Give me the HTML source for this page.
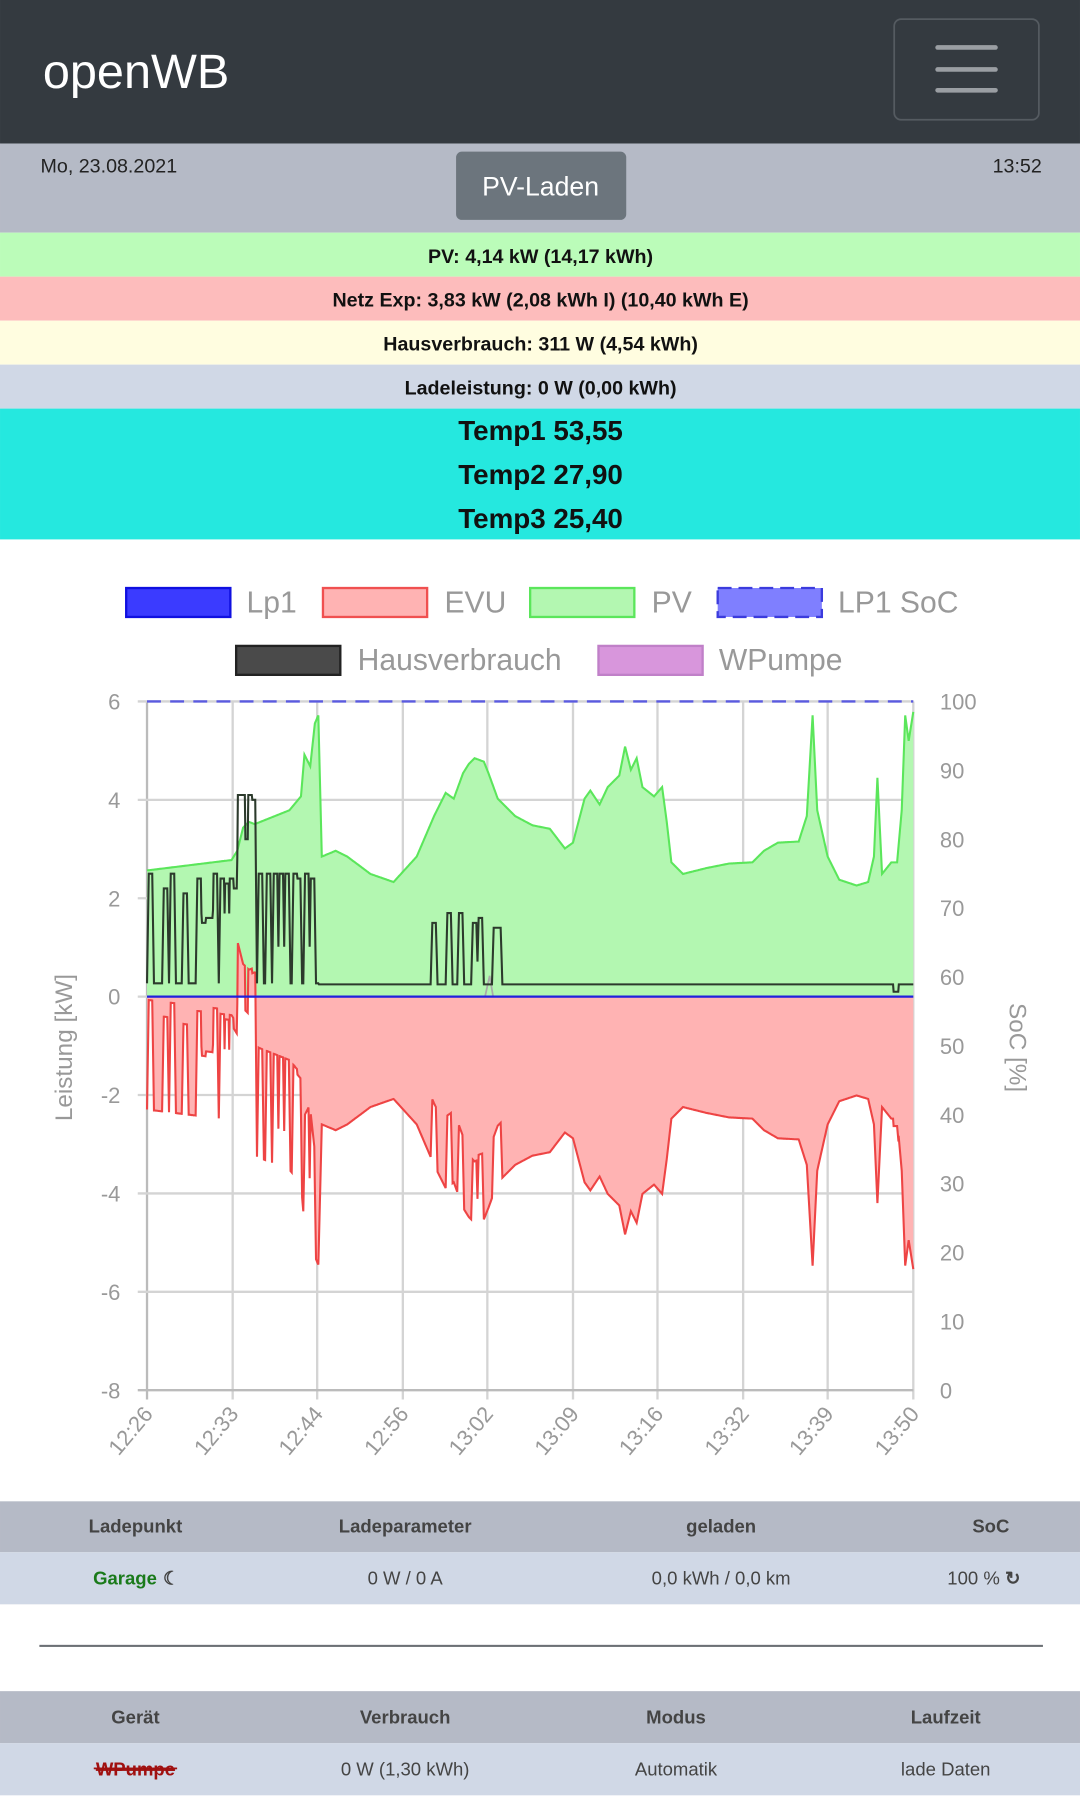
<!DOCTYPE html>
<html><head><meta charset="utf-8">
<style>
html,body{margin:0;padding:0;background:#fff;}
svg{display:block;}
text{font-family:"Liberation Sans",sans-serif;}
</style></head>
<body>
<svg id="s" width="1080" height="1815" viewBox="0 0 933 1568" xmlns="http://www.w3.org/2000/svg">
<rect x="0" y="0" width="933" height="124" fill="#343a40"/>
<text x="37" y="76" font-size="42" fill="#fff">openWB</text>
<rect x="772.5" y="16.5" width="125" height="87" rx="6" fill="none" stroke="#555b61" stroke-width="1.5"/>
<rect x="808" y="39" width="54" height="4" rx="2" fill="#9a9ea3"/>
<rect x="808" y="58" width="54" height="4" rx="2" fill="#9a9ea3"/>
<rect x="808" y="76" width="54" height="4" rx="2" fill="#9a9ea3"/>
<rect x="0" y="124" width="933" height="77" fill="#b5bac6"/>
<text x="35" y="149" font-size="17" fill="#222">Mo, 23.08.2021</text>
<text x="900" y="149" font-size="17" fill="#222" text-anchor="end">13:52</text>
<rect x="394" y="131" width="147" height="59" rx="5" fill="#6c757d"/>
<text x="467" y="169" font-size="23" fill="#fff" text-anchor="middle">PV-Laden</text>
<rect x="0" y="201" width="933" height="38" fill="#bbfcb9"/>
<rect x="0" y="239" width="933" height="38" fill="#fdbcbc"/>
<rect x="0" y="277" width="933" height="38" fill="#fffde0"/>
<rect x="0" y="315" width="933" height="38" fill="#d0d8e6"/>
<rect x="0" y="353" width="933" height="113" fill="#25e8df"/>
<g font-size="17" font-weight="bold" fill="#111" text-anchor="middle">
<text x="467" y="227">PV: 4,14 kW (14,17 kWh)</text>
<text x="467" y="265">Netz Exp: 3,83 kW (2,08 kWh I) (10,40 kWh E)</text>
<text x="467" y="303">Hausverbrauch: 311 W (4,54 kWh)</text>
<text x="467" y="341">Ladeleistung: 0 W (0,00 kWh)</text>
</g>
<g font-size="24" font-weight="bold" fill="#111" text-anchor="middle">
<text x="467" y="380">Temp1 53,55</text>
<text x="467" y="418">Temp2 27,90</text>
<text x="467" y="456">Temp3 25,40</text>
</g>
<!-- legend -->
<g font-size="26" fill="#999">
<rect x="109" y="508" width="90" height="25" fill="#3b3bff" stroke="#1010e0" stroke-width="2"/>
<text x="213" y="529">Lp1</text>
<rect x="279" y="508" width="90" height="25" fill="#ffb3b3" stroke="#f05050" stroke-width="2"/>
<text x="384" y="529">EVU</text>
<rect x="458" y="508" width="90" height="25" fill="#b3f7b1" stroke="#5be65b" stroke-width="2"/>
<text x="563" y="529">PV</text>
<rect x="620" y="508" width="90" height="25" fill="#7f7fff" stroke="#3b3bdd" stroke-width="2" stroke-dasharray="12,6"/>
<text x="724" y="529">LP1 SoC</text>
<rect x="204" y="558" width="90" height="25" fill="#4a4a4a" stroke="#222" stroke-width="2"/>
<text x="309" y="579">Hausverbrauch</text>
<rect x="517" y="558" width="90" height="25" fill="#d896dc" stroke="#c080c8" stroke-width="2"/>
<text x="621" y="579">WPumpe</text>
</g>
<g id="grid"></g>
<g id="data"></g>
<g id="labels" font-size="19" fill="#999"></g>
<text transform="translate(62,905) rotate(-90)" font-size="21" fill="#999" text-anchor="middle">Leistung [kW]</text>
<text transform="translate(872,905) rotate(90)" font-size="21" fill="#999" text-anchor="middle">SoC [%]</text>
<!-- tables -->
<rect x="0" y="1297" width="933" height="44" fill="#b5bac6"/>
<rect x="0" y="1341" width="933" height="45" fill="#d0d8e6"/>
<g font-size="16" font-weight="bold" fill="#444" text-anchor="middle">
<text x="117" y="1324">Ladepunkt</text><text x="350" y="1324">Ladeparameter</text><text x="623" y="1324">geladen</text><text x="856" y="1324">SoC</text>
</g>
<g font-size="16" fill="#444" text-anchor="middle">
<text x="108" y="1369" fill="#1a7a1a" font-weight="bold">Garage</text><text x="148" y="1369" font-weight="bold">☾</text>
<text x="350" y="1369">0 W / 0 A</text><text x="623" y="1369">0,0 kWh / 0,0 km</text><text x="850" y="1369">100 % <tspan font-weight="bold">↻</tspan></text>
</g>
<rect x="34" y="1421" width="867" height="1.8" fill="#6c7075"/>
<rect x="0" y="1461" width="933" height="45" fill="#b5bac6"/>
<rect x="0" y="1506" width="933" height="45" fill="#d0d8e6"/>
<g font-size="16" font-weight="bold" fill="#444" text-anchor="middle">
<text x="117" y="1489">Gerät</text><text x="350" y="1489">Verbrauch</text><text x="584" y="1489">Modus</text><text x="817" y="1489">Laufzeit</text>
</g>
<g font-size="16" fill="#444" text-anchor="middle">
<text x="117" y="1534" fill="#a01010" font-weight="bold" text-decoration="line-through">WPumpe</text>
<rect x="81" y="1527" width="72" height="1.5" fill="#a01010"/>
<text x="350" y="1534">0 W (1,30 kWh)</text><text x="584" y="1534">Automatik</text><text x="817" y="1534">lade Daten</text>
</g>
</svg>
<script>
(function(){
var NS="http://www.w3.org/2000/svg";
function el(p,t,a){var e=document.createElementNS(NS,t);for(var k in a)e.setAttribute(k,a[k]);document.getElementById(p).appendChild(e);return e;}
var L=127,R=789,T=606,B=1201,Z=861,K=42.5;
var xt=[127,201,274,348,421,495,568,642,715,789],xl=["12:26","12:33","12:44","12:56","13:02","13:09","13:16","13:32","13:39","13:50"];
for(var i=0;i<xt.length;i++){el("grid","line",{x1:xt[i],y1:T,x2:xt[i],y2:B+8,stroke:i==0?"#bbb":"#d4d4d4","stroke-width":2});}
for(var v=6,j=0;v>=-8;v-=2,j++){var y=Z-v*K;el("grid","line",{x1:L-8,y1:y,x2:R,y2:y,stroke:v==-8?"#bbb":"#d4d4d4","stroke-width":2});
var t=el("labels","text",{x:104,y:y+7,"text-anchor":"end"});t.textContent=(v<0?"-":"")+Math.abs(v);
var t2=el("labels","text",{x:812,y:y+7});t2.textContent=String(100-j*(100/7)).length>3?Math.round(100-j*100/7.0):100-j*100/7;}
// right labels fix: 100,90,...,0 across 10 steps
var lab=document.getElementById("labels");var rs=lab.querySelectorAll('text[x="812"]');for(var q=0;q<rs.length;q++)rs[q].remove();
for(var s=0;s<=10;s++){var yy=T+(B-T)*s/10;var tt=el("labels","text",{x:812,y:yy+7});tt.textContent=100-s*10;}
for(var i=0;i<xt.length;i++){var tx=el("labels","text",{transform:"translate("+(xt[i]+6)+",1222) rotate(-50)","text-anchor":"end"});tx.textContent=xl[i];}
var pv=[[127,752],[200,743],[205,735],[210,715],[215,710],[220,712],[230,708],[250,700],[260,688],[263,652],[268,662],[272,625],[275,618],[278,740],[290,735],[300,740],[320,755],[340,762],[360,740],[375,705],[385,685],[392,690],[400,668],[405,660],[410,655],[418,658],[422,668],[430,690],[445,705],[460,713],[475,716],[488,733],[495,728],[505,690],[510,683],[518,695],[525,680],[535,670],[540,645],[545,665],[550,655],[555,680],[565,688],[572,680],[576,710],[580,745],[590,755],[610,750],[630,746],[650,745],[660,735],[672,728],[690,727],[697,705],[702,618],[706,700],[715,740],[725,760],[740,765],[750,762],[755,740],[758,672],[762,755],[770,745],[775,745],[779,700],[782,618],[785,640],[789,615]];
function interp(a,x){for(var i=1;i<a.length;i++)if(x<=a[i][0]){var p=a[i-1],n=a[i];return p[1]+(n[1]-p[1])*(x-p[0])/(n[0]-p[0]);}return a[a.length-1][1];}
var sp=[[130,2.5],[143,2.2],[149,2.5],[160,2.1],[172,2.4],[176,1.5],[186,2.5],[192,2.4],[196,2.3],[200,2.4],[203,2.2],[207,4.1],[210,4.1],[213,3.2],[216,4.1],[219,4.0],[225,2.5],[232,2.5],[238,2.5],[243,2.5],[248,2.5],[255,2.5],[258,2.4],[265,2.5],[270,2.4],[375,1.5],[388,1.7],[398,1.7],[410,1.5],[415,1.6],[428,1.4],[431,1.4]];
function haus(x){var h=0.27;if(x>275)h=0.25;if(x>=178&&x<=186)h=Math.max(h,1.6);for(var i=0;i<sp.length;i++){var d=Math.abs(x-sp[i][0]);if(d<1.5)h=Math.max(h,sp[i][1]);else if(d<3)h=Math.max(h,0.27+(sp[i][1]-0.27)*(3-d)/1.5);}if(x>=772&&x<=776)h=0.1;return h;}
var pvp="",hp="",ep="";
for(var x=L;x<=R;x+=0.5){var py=interp(pv,x);var pk=(Z-py)/K;var hk=haus(x);var ek=hk-pk;
pvp+=(x==L?"M":"L")+x+","+py.toFixed(1);hp+=(x==L?"M":"L")+x+","+(Z-hk*K).toFixed(1);ep+=(x==L?"M":"L")+x+","+(Z-ek*K).toFixed(1);}
el("data","path",{d:pvp+"L"+R+","+Z+"L"+L+","+Z+"Z",fill:"#b3f7b1"});
el("data","path",{d:ep+"L"+R+","+Z+"L"+L+","+Z+"Z",fill:"#ffb3b3"});
el("data","path",{d:pvp,fill:"none",stroke:"#5be65b","stroke-width":1.8});
el("data","path",{d:ep,fill:"none",stroke:"#ee4444","stroke-width":1.8});
el("data","path",{d:"M419,861L423,843L426,861",fill:"none",stroke:"#aaa","stroke-width":1.5});
el("data","path",{d:hp,fill:"none",stroke:"#2c3a2c","stroke-width":1.8});
el("data","line",{x1:L,y1:Z,x2:R,y2:Z,stroke:"#2020dd","stroke-width":2});
el("data","line",{x1:L,y1:T,x2:R,y2:T,stroke:"#5a5ae0","stroke-width":2,"stroke-dasharray":"12,8"});
})();
</script>
</body></html>
